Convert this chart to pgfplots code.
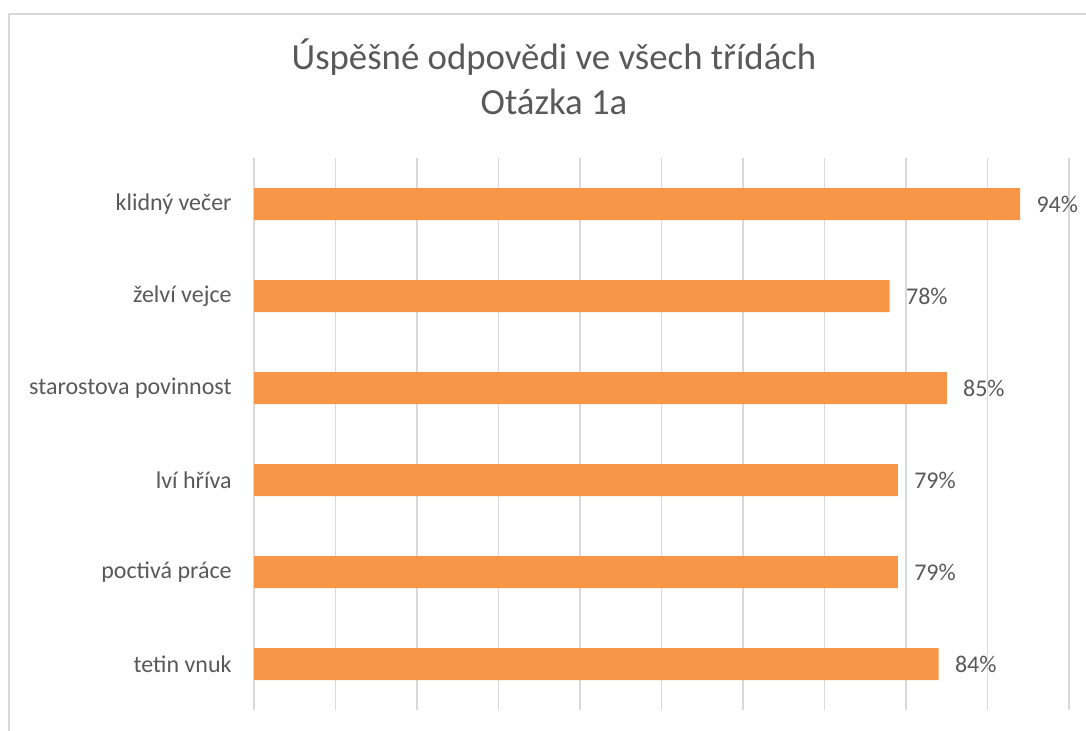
\documentclass[border=0pt]{standalone}
\usepackage{fontspec}
\setmainfont{Carlito}
\usepackage{pgfplots}
\pgfplotsset{compat=1.18}
\definecolor{barorange}{HTML}{F79646}
\definecolor{txtgray}{HTML}{595959}
\definecolor{gridgray}{HTML}{D9D9D9}

\begin{document}
\begin{tikzpicture}
\useasboundingbox (0,0) rectangle (543pt,-365.5pt);
\clip (0,0) rectangle (543pt,-365.5pt);
% chart frame (cut off right and bottom in the reference)
\draw[gridgray, line width=0.8pt] (4.5pt,-400pt) -- (4.5pt,-7pt) -- (600pt,-7pt);

\node[anchor=base, font=\fontsize{18.4}{22}\selectfont, text=txtgray] at (277pt,-35pt) {Úspěšné odpovědi ve všech třídách};
\node[anchor=base, font=\fontsize{18.4}{22}\selectfont, text=txtgray] at (277pt,-57.5pt) {Otázka 1a};

\begin{axis}[
    at={(127pt,-355pt)}, anchor=south west,
    scale only axis,
    width=407.5pt, height=276pt,
    xbar, bar width=16pt,
    xmin=0, xmax=100,
    ymin=-0.5, ymax=5.5,
    y dir=reverse,
    xtick={0,10,...,100}, xticklabels={},
    ytick={0,...,5},
    yticklabels={klidný večer, želví vejce, starostova povinnost, lví hříva, poctivá práce, tetin vnuk},
    major tick length=0pt,
    axis line style={draw=none},
    xmajorgrids,
    grid style={gridgray, line width=0.75pt},
    yticklabel style={font=\fontsize{12}{14}\selectfont, text=txtgray, inner sep=0pt, xshift=-11pt},
    /pgf/number format/assume math mode=true,
    nodes near coords={\pgfmathprintnumber{\pgfplotspointmeta}\%},
    nodes near coords style={font=\fontsize{12}{14}\selectfont, text=txtgray, anchor=west, inner sep=0pt, xshift=8pt},
    point meta=x,
]
\addplot[fill=barorange, draw=none] coordinates {
    (94,0) (78,1) (85,2) (79,3) (79,4) (84,5)
};
\end{axis}
\end{tikzpicture}
\end{document}
